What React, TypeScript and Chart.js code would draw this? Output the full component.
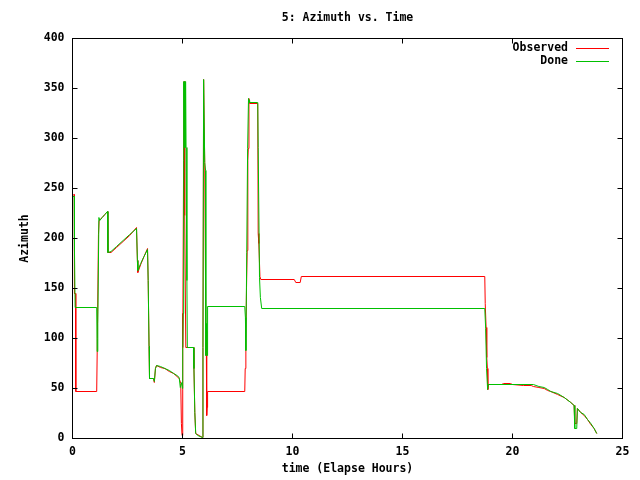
import React, { useEffect, useRef } from "react";
import { Chart, registerables } from "chart.js";

Chart.register(...registerables);

const TITLE = "5: Azimuth vs. Time";
const X_TITLE = "time (Elapse Hours)";
const Y_TITLE = "Azimuth";
const SERIES_NAMES = ["Observed", "Done"];
const SERIES_COLORS = ["#ff0000", "#00c000"];
const X_TICKS = [0, 5, 10, 15, 20, 25];
const Y_TICKS = [0, 50, 100, 150, 200, 250, 300, 350, 400];

const observedHours = [
  0, 0.08, 0.09, 0.14, 0.15, 1.1, 1.13, 1.18, 1.21, 1.35, 1.47, 1.59, 1.61, 1.75, 2.0, 2.3, 2.6, 2.91, 2.95, 2.97,
  3.1, 3.25, 3.41, 3.44, 3.48, 3.5, 3.68, 3.72, 3.77, 3.82, 4.0, 4.2, 4.4, 4.6, 4.75, 4.85, 4.92, 4.95, 4.98, 5.0,
  5.02, 5.05, 5.08, 5.1, 5.15, 5.5, 5.52, 5.56, 5.6, 5.91, 5.93, 5.96, 6.01, 6.06, 6.08, 6.1, 6.12, 6.14, 7.83, 7.85,
  7.88, 7.91, 7.94, 7.97, 7.99, 8.02, 8.05, 8.42, 8.44, 8.47, 8.52, 8.56, 10.08, 10.15, 10.35, 10.4, 18.74, 18.76, 18.8, 18.83,
  18.86, 18.88, 18.9, 19.5, 19.6, 19.9, 20.0, 20.5, 20.85, 20.95, 21.2, 21.44, 21.6, 21.74, 22.05, 22.35, 22.65, 22.8, 22.83, 22.92,
  22.95, 23.1, 23.26, 23.41, 23.56, 23.71, 23.83,
];
const observedAzimuth = [
  243, 244, 145, 145, 47, 47, 100, 204, 218, 221, 224, 227, 186, 186, 191, 197, 203, 211, 178, 166,
  174, 182, 190, 158, 92, 60, 60, 56, 70, 73, 71, 70, 67, 65, 62, 60, 55, 15, 3, 125,
  91, 278, 357, 223, 91, 91, 70, 26, 5, 1, 91, 359, 276, 115, 108, 23, 31, 47, 47, 70,
  100, 151, 188, 278, 290, 340, 335, 335, 205, 195, 162, 159, 159, 156, 156, 162, 162, 135, 111, 81,
  70, 49, 54, 54, 55, 55, 54, 53, 53, 52, 51, 50, 48, 47, 44, 41, 36, 33, 15, 15,
  30, 26, 23, 19, 14, 10, 5,
];

const doneHours = [
  0, 0.08, 0.09, 0.12, 1.1, 1.12, 1.15, 1.2, 1.24, 1.35, 1.47, 1.59, 1.61, 1.75, 2.0, 2.3, 2.6, 2.91, 2.95, 2.97,
  3.1, 3.25, 3.41, 3.44, 3.48, 3.5, 3.68, 3.72, 3.77, 3.82, 4.0, 4.2, 4.4, 4.6, 4.75, 4.85, 4.9, 4.97, 5.0, 5.01,
  5.03, 5.05, 5.06, 5.08, 5.1, 5.12, 5.14, 5.16, 5.2, 5.22, 5.5, 5.52, 5.56, 5.6, 5.7, 5.8, 5.91, 5.93, 5.96, 6.01,
  6.05, 6.06, 6.09, 6.12, 6.14, 7.83, 7.86, 7.88, 7.92, 7.96, 8.0, 8.03, 8.05, 8.42, 8.44, 8.5, 8.54, 8.6, 18.74, 18.78,
  18.82, 18.87, 18.9, 20.95, 21.2, 21.44, 21.6, 21.74, 22.05, 22.35, 22.65, 22.8, 22.83, 22.92, 22.95, 23.1, 23.26, 23.41, 23.56, 23.71,
  23.83,
];
const doneAzimuth = [
  242, 242, 188, 131, 131, 87, 115, 221, 218, 221, 224, 227, 186, 187, 192, 198, 204, 210, 178, 168,
  175, 182, 189, 158, 92, 60, 60, 57, 70, 73, 72, 70, 68, 65, 63, 61, 51, 56, 50, 91,
  125, 279, 357, 291, 357, 291, 357, 291, 158, 91, 91, 70, 26, 5, 3, 2, 1, 91, 359, 276,
  268, 83, 115, 83, 132, 132, 121, 88, 186, 290, 340, 338, 336, 336, 291, 161, 141, 130, 130, 110,
  70, 49, 54, 54, 52, 51, 49, 47, 45, 41, 36, 33, 10, 10, 30, 26, 24, 19, 15, 10,
  5,
];

const FONT_FAMILY = "'DejaVu Sans Mono', 'Liberation Mono', monospace";
const FONT_SIZE = 11.5;

const gnuplotDecor = {
  id: "gnuplotDecor",
  afterDraw(chart: any) {
    const { ctx, chartArea: a, scales } = chart;
    const xs = scales.x;
    const ys = scales.y;
    ctx.save();
    ctx.strokeStyle = "#000";
    ctx.lineWidth = 1;
    const L = Math.floor(a.left) + 0.5;
    const R = Math.floor(a.right) + 0.5;
    const T = Math.floor(a.top) + 0.5;
    const B = Math.floor(a.bottom) + 0.5;
    ctx.strokeRect(L, T, R - L, B - T);
    const tl = 5;
    ctx.beginPath();
    for (const t of xs.ticks) {
      const px = Math.floor(xs.getPixelForValue(t.value)) + 0.5;
      ctx.moveTo(px, B);
      ctx.lineTo(px, B - tl);
      ctx.moveTo(px, T);
      ctx.lineTo(px, T + tl);
    }
    for (const t of ys.ticks) {
      const py = Math.floor(ys.getPixelForValue(t.value)) + 0.5;
      ctx.moveTo(L, py);
      ctx.lineTo(L + tl, py);
      ctx.moveTo(R, py);
      ctx.lineTo(R - tl, py);
    }
    ctx.stroke();

    ctx.fillStyle = "#000";
    ctx.font = `bold ${FONT_SIZE}px ${FONT_FAMILY}`;
    ctx.textBaseline = "middle";
    ctx.textAlign = "center";
    const cx = (a.left + a.right) / 2;
    ctx.fillText(TITLE, cx, 18);
    ctx.fillText(X_TITLE, cx, 469);
    ctx.save();
    ctx.translate(25, (a.top + a.bottom) / 2);
    ctx.rotate(-Math.PI / 2);
    ctx.fillText(Y_TITLE, 0, 0);
    ctx.restore();

    // legend (text, then line sample), gnuplot style
    ctx.textAlign = "right";
    SERIES_NAMES.forEach((name, i) => {
      const y = 48 + i * 13;
      ctx.fillStyle = "#000";
      ctx.fillText(name, 568, y + 0.5);
      ctx.strokeStyle = SERIES_COLORS[i];
      ctx.beginPath();
      ctx.moveTo(576, y + 0.5);
      ctx.lineTo(609, y + 0.5);
      ctx.stroke();
    });
    ctx.restore();
  },
};

export default function App() {
  const ref = useRef<HTMLCanvasElement>(null);
  useEffect(() => {
    document.body.style.margin = "0";
    const font = { family: FONT_FAMILY, size: FONT_SIZE, weight: "bold" as const };
    const chart = new Chart(ref.current!, {
      type: "scatter",
      data: {
        datasets: [
          {
            label: SERIES_NAMES[0],
            data: observedHours.map((h, i) => ({ x: h, y: observedAzimuth[i] })),
            borderColor: SERIES_COLORS[0],
            backgroundColor: SERIES_COLORS[0],
            showLine: true,
            pointRadius: 0,
            borderWidth: 1,
            tension: 0,
            order: 1,
          },
          {
            label: SERIES_NAMES[1],
            data: doneHours.map((h, i) => ({ x: h, y: doneAzimuth[i] })),
            borderColor: SERIES_COLORS[1],
            backgroundColor: SERIES_COLORS[1],
            showLine: true,
            pointRadius: 0,
            borderWidth: 1,
            tension: 0,
            order: 0,
          },
        ],
      },
      options: {
        responsive: false,
        animation: false,
        devicePixelRatio: 1,
        layout: { padding: { left: 0, right: 17.5, top: 38.5, bottom: 0 } },
        plugins: { legend: { display: false }, tooltip: { enabled: false }, title: { display: false } },
        scales: {
          x: {
            type: "linear",
            min: 0,
            max: 25,
            afterBuildTicks: (s: any) => {
              s.ticks = X_TICKS.map((v) => ({ value: v }));
            },
            ticks: { font, color: "#000", padding: 7, maxRotation: 0, autoSkip: false },
            grid: { display: false, drawTicks: false },
            border: { display: false },
            afterFit: (s: any) => {
              s.height = 41.5;
            },
          },
          y: {
            type: "linear",
            min: 0,
            max: 400,
            afterBuildTicks: (s: any) => {
              s.ticks = Y_TICKS.map((v) => ({ value: v }));
            },
            ticks: { font, color: "#000", padding: 8, autoSkip: false },
            grid: { display: false, drawTicks: false },
            border: { display: false },
            afterFit: (s: any) => {
              s.width = 72.5;
            },
          },
        },
      },
      plugins: [gnuplotDecor],
    });
    return () => chart.destroy();
  }, []);
  return (
    <div style={{ position: "absolute", left: 0, top: 0, width: 640, height: 480, background: "#fff" }}>
      <canvas ref={ref} width={640} height={480} style={{ display: "block" }} />
    </div>
  );
}
